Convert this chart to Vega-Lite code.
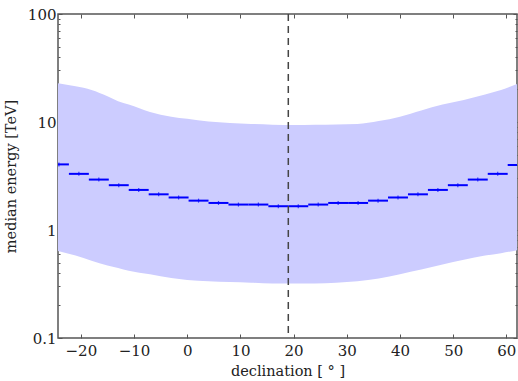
{
  "$schema": "https://vega.github.io/schema/vega-lite/v6.json",
  "width": 459,
  "height": 324,
  "autosize": "none",
  "padding": {"left": 58, "top": 14, "right": 1, "bottom": 43},
  "background": "white",
  "config": {
    "view": {"stroke": "#555555", "strokeWidth": 1.5},
    "font": "DejaVu Serif",
    "axis": {"labelFont": "DejaVu Serif", "titleFont": "DejaVu Serif", "labelFontSize": 15, "titleFontSize": 14.5, "titleFontWeight": "normal", "labelColor": "#222", "titleColor": "#222", "domain": false, "grid": false, "tickColor": "#555555", "tickWidth": 1}
  },
  "datasets": {
    "band": [
      {"dec": -24.3, "lo": 0.64, "hi": 22.8},
      {"dec": -21, "lo": 0.58, "hi": 21.4},
      {"dec": -18, "lo": 0.52, "hi": 19.8},
      {"dec": -15, "lo": 0.47, "hi": 17.3},
      {"dec": -13, "lo": 0.445, "hi": 15.6},
      {"dec": -11, "lo": 0.42, "hi": 14.5},
      {"dec": -7, "lo": 0.39, "hi": 12.4},
      {"dec": -3, "lo": 0.36, "hi": 11.2},
      {"dec": 0, "lo": 0.345, "hi": 10.7},
      {"dec": 4, "lo": 0.335, "hi": 10.1},
      {"dec": 8, "lo": 0.33, "hi": 9.8},
      {"dec": 12, "lo": 0.325, "hi": 9.6},
      {"dec": 16, "lo": 0.32, "hi": 9.45},
      {"dec": 20, "lo": 0.32, "hi": 9.4},
      {"dec": 24, "lo": 0.32, "hi": 9.45},
      {"dec": 28, "lo": 0.325, "hi": 9.5},
      {"dec": 32, "lo": 0.335, "hi": 9.6},
      {"dec": 36, "lo": 0.355, "hi": 10.2},
      {"dec": 40, "lo": 0.39, "hi": 11.2},
      {"dec": 44, "lo": 0.43, "hi": 12.8},
      {"dec": 48, "lo": 0.48, "hi": 14.5},
      {"dec": 52, "lo": 0.53, "hi": 16.0},
      {"dec": 56, "lo": 0.58, "hi": 18.0},
      {"dec": 59, "lo": 0.61, "hi": 19.8},
      {"dec": 62, "lo": 0.65, "hi": 22.5}
    ],
    "steps": [
      {"start": -26, "end": -22.25, "mid": -24.125, "energy": 4.05},
      {"start": -22.25, "end": -18.5, "mid": -20.375, "energy": 3.31},
      {"start": -18.5, "end": -14.75, "mid": -16.625, "energy": 2.93},
      {"start": -14.75, "end": -11, "mid": -12.875, "energy": 2.6},
      {"start": -11, "end": -7.25, "mid": -9.125, "energy": 2.35},
      {"start": -7.25, "end": -3.5, "mid": -5.375, "energy": 2.14},
      {"start": -3.5, "end": 0.25, "mid": -1.625, "energy": 2.0},
      {"start": 0.25, "end": 4, "mid": 2.125, "energy": 1.87},
      {"start": 4, "end": 7.75, "mid": 5.875, "energy": 1.78},
      {"start": 7.75, "end": 11.5, "mid": 9.625, "energy": 1.72},
      {"start": 11.5, "end": 15.25, "mid": 13.375, "energy": 1.72},
      {"start": 15.25, "end": 19, "mid": 17.125, "energy": 1.66},
      {"start": 19, "end": 22.75, "mid": 20.875, "energy": 1.66},
      {"start": 22.75, "end": 26.5, "mid": 24.625, "energy": 1.72},
      {"start": 26.5, "end": 30.25, "mid": 28.375, "energy": 1.78},
      {"start": 30.25, "end": 34, "mid": 32.125, "energy": 1.78},
      {"start": 34, "end": 37.75, "mid": 35.875, "energy": 1.87},
      {"start": 37.75, "end": 41.5, "mid": 39.625, "energy": 2.0},
      {"start": 41.5, "end": 45.25, "mid": 43.375, "energy": 2.14},
      {"start": 45.25, "end": 49, "mid": 47.125, "energy": 2.35},
      {"start": 49, "end": 52.75, "mid": 50.875, "energy": 2.6},
      {"start": 52.75, "end": 56.5, "mid": 54.625, "energy": 2.93},
      {"start": 56.5, "end": 60.25, "mid": 58.375, "energy": 3.31},
      {"start": 60.25, "end": 64, "mid": 62.125, "energy": 4.0}
    ],
    "marker": [{"dec": 19}]
  },
  "layer": [
    {
      "data": {"name": "band"},
      "mark": {"type": "area", "color": "#ccccff", "opacity": 1, "interpolate": "monotone", "clip": true},
      "encoding": {
        "x": {"field": "dec", "type": "quantitative", "scale": {"domain": [-24.3, 62], "nice": false, "zero": false},
          "axis": {"orient": "bottom", "title": "declination [ ° ]", "values": [-20, -10, 0, 10, 20, 30, 40, 50, 60], "labelExpr": "replace(datum.label, '-', '−')", "tickSize": -4, "labelPadding": 9, "titlePadding": 6}},
        "y": {"field": "lo", "type": "quantitative", "scale": {"type": "log", "domain": [0.1, 100], "nice": false},
          "axis": {"orient": "left", "title": "median energy [TeV]", "values": [0.1, 0.2, 0.3, 0.4, 0.5, 0.6, 0.7, 0.8, 0.9, 1, 2, 3, 4, 5, 6, 7, 8, 9, 10, 20, 30, 40, 50, 60, 70, 80, 90, 100],
            "labelExpr": "indexof([0.1, 1, 10, 100], datum.value) >= 0 ? datum.label : ''",
            "tickSize": {"condition": {"test": "indexof([0.1, 1, 10, 100], datum.value) >= 0", "value": -4}, "value": -2},
            "labelPadding": 6, "titlePadding": 9}},
        "y2": {"field": "hi"}
      }
    },
    {
      "data": {"name": "steps"},
      "mark": {"type": "rule", "color": "#0000ff", "strokeWidth": 2, "clip": true},
      "encoding": {
        "x": {"field": "start", "type": "quantitative", "axis": {"orient": "top", "title": null, "labels": false, "values": [-20, -10, 0, 10, 20, 30, 40, 50, 60], "tickSize": -4}},
        "x2": {"field": "end"},
        "y": {"field": "energy", "type": "quantitative", "axis": {"orient": "right", "title": null, "labels": false, "values": [0.1, 0.2, 0.3, 0.4, 0.5, 0.6, 0.7, 0.8, 0.9, 1, 2, 3, 4, 5, 6, 7, 8, 9, 10, 20, 30, 40, 50, 60, 70, 80, 90, 100],
          "tickSize": {"condition": {"test": "indexof([0.1, 1, 10, 100], datum.value) >= 0", "value": -4}, "value": -2}}}
      }
    },
    {
      "data": {"name": "steps"},
      "mark": {"type": "tick", "orient": "vertical", "color": "#0000ff", "size": 4, "thickness": 1.2, "clip": true},
      "encoding": {
        "x": {"field": "mid", "type": "quantitative", "axis": null},
        "y": {"field": "energy", "type": "quantitative", "axis": null}
      }
    },
    {
      "data": {"name": "marker"},
      "mark": {"type": "rule", "color": "#444444", "strokeWidth": 1.5, "strokeDash": [7, 5]},
      "encoding": {
        "x": {"field": "dec", "type": "quantitative", "axis": null}
      }
    }
  ]
}
